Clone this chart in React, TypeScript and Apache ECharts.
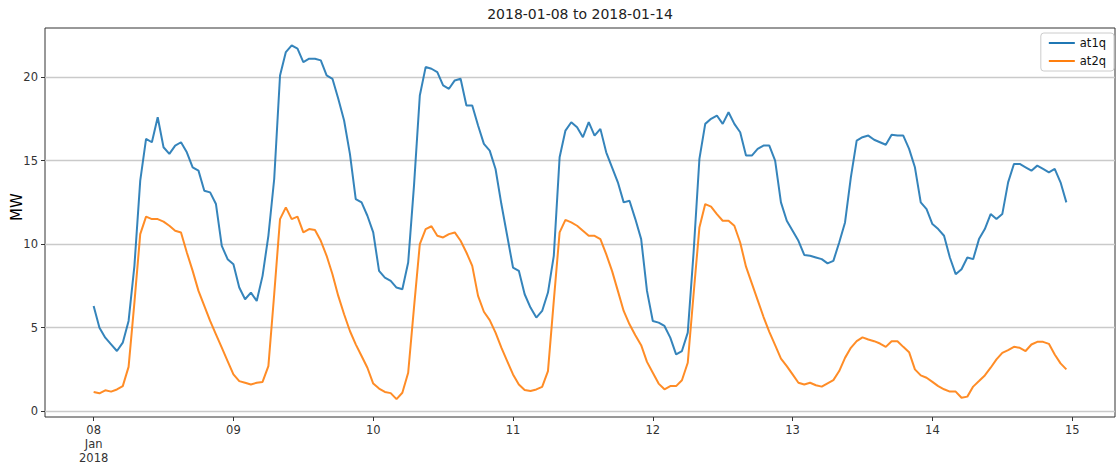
import React, { useEffect, useRef } from "react";
import * as echarts from "echarts";

const TITLE = "2018-01-08 to 2018-01-14";
const Y_AXIS_NAME = "MW";
const SERIES_NAMES = ["at1q", "at2q"];
const SERIES_COLORS = ["#1f77b4", "#ff7f0e"];
// hours since 2018-01-08 00:00 at which day ticks sit
const X_TICK_HOURS = [0, 24, 48, 72, 96, 120, 144, 168];
const X_TICK_LABELS = ["08\nJan\n2018", "09", "10", "11", "12", "13", "14", "15"];
const Y_TICKS = [0, 5, 10, 15, 20];

// hourly values, 2018-01-08 00:00 .. 2018-01-14 23:00
const at1q = [
  // 08
  6.3, 5.0, 4.4, 4.0, 3.6, 4.1, 5.4, 8.7, 13.8, 16.3, 16.1, 17.6, 15.8, 15.4, 15.9, 16.1, 15.5, 14.6, 14.4, 13.2, 13.1, 12.4, 9.9, 9.1,
  // 09
  8.8, 7.4, 6.7, 7.1, 6.6, 8.1, 10.5, 13.9, 20.1, 21.5, 21.9, 21.7, 20.9, 21.1, 21.1, 21.0, 20.1, 19.9, 18.7, 17.4, 15.4, 12.7, 12.5, 11.7,
  // 10
  10.7, 8.4, 8.0, 7.8, 7.4, 7.3, 8.9, 13.5, 18.9, 20.6, 20.5, 20.3, 19.5, 19.3, 19.8, 19.9, 18.3, 18.3, 17.1, 16.0, 15.6, 14.5, 12.4, 10.5,
  // 11
  8.6, 8.4, 7.0, 6.2, 5.6, 6.0, 7.1, 9.3, 15.2, 16.8, 17.3, 17.0, 16.4, 17.3, 16.5, 16.9, 15.5, 14.6, 13.7, 12.5, 12.6, 11.5, 10.3, 7.2,
  // 12
  5.4, 5.3, 5.1, 4.4, 3.4, 3.6, 4.7, 9.5, 15.1, 17.2, 17.5, 17.7, 17.2, 17.9, 17.2, 16.7, 15.3, 15.3, 15.7, 15.9, 15.9, 15.0, 12.5, 11.4,
  // 13
  10.8, 10.2, 9.35, 9.3, 9.2, 9.1, 8.85, 9.0, 10.1, 11.3, 14.0, 16.2, 16.4, 16.5, 16.25, 16.1, 15.95, 16.55, 16.5, 16.5, 15.7, 14.6, 12.5, 12.1,
  // 14
  11.2, 10.9, 10.5, 9.2, 8.2, 8.5, 9.2, 9.1, 10.3, 10.9, 11.8, 11.5, 11.8, 13.7, 14.8, 14.8, 14.6, 14.4, 14.7, 14.5, 14.3, 14.5, 13.7, 12.5,
];

const at2q = [
  // 08
  1.15, 1.07, 1.25, 1.17, 1.3, 1.5, 2.65, 6.5, 10.6, 11.65, 11.5, 11.5, 11.35, 11.1, 10.8, 10.7, 9.5, 8.4, 7.2, 6.3, 5.4, 4.6, 3.8, 3.0,
  // 09
  2.2, 1.8, 1.7, 1.6, 1.7, 1.75, 2.7, 7.0, 11.5, 12.2, 11.5, 11.65, 10.7, 10.9, 10.85, 10.2, 9.3, 8.2, 6.9, 5.8, 4.8, 4.0, 3.3, 2.6,
  // 10
  1.65, 1.35, 1.15, 1.08, 0.72, 1.1, 2.3, 6.2, 10.0, 10.9, 11.07, 10.5, 10.4, 10.6, 10.7, 10.2, 9.5, 8.7, 6.9, 5.95, 5.45, 4.7, 3.8, 3.0,
  // 11
  2.2, 1.6, 1.27, 1.21, 1.3, 1.45, 2.4, 6.6, 10.7, 11.45, 11.3, 11.1, 10.8, 10.5, 10.5, 10.3, 9.4, 8.4, 7.2, 6.0, 5.2, 4.55, 3.95, 2.95,
  // 12
  2.3, 1.65, 1.31, 1.5, 1.5, 1.85, 2.9, 7.0, 11.0, 12.4, 12.25, 11.8, 11.4, 11.4, 11.1, 10.1, 8.65, 7.65, 6.65, 5.65, 4.75, 3.95, 3.15, 2.7,
  // 13
  2.2, 1.7, 1.6, 1.7, 1.55, 1.47, 1.67, 1.86, 2.4, 3.19, 3.79, 4.19, 4.42, 4.29, 4.19, 4.05, 3.85, 4.19, 4.19, 3.85, 3.53, 2.5, 2.14, 2.0,
  // 14
  1.75, 1.5, 1.31, 1.17, 1.17, 0.8, 0.87, 1.47, 1.8, 2.14, 2.6, 3.1, 3.49, 3.65, 3.85, 3.79, 3.6, 3.99, 4.15, 4.15, 4.03, 3.39, 2.86, 2.5,
];

const FONT = "DejaVu Sans";

export default function App() {
  const ref = useRef<HTMLDivElement>(null);

  useEffect(() => {
    if (!ref.current) return;
    const chart = echarts.init(ref.current, null, { renderer: "svg" });
    const toPairs = (arr: number[]) => arr.map((v, i) => [i, v]);

    chart.setOption({
      animation: false,
      backgroundColor: "#ffffff",
      textStyle: { fontFamily: FONT },
      title: {
        text: TITLE,
        left: 580,
        top: 7,
        padding: 0,
        textAlign: "center",
        textStyle: { fontSize: 14, fontWeight: "normal", color: "#222", fontFamily: FONT },
      },
      legend: {
        orient: "vertical",
        right: 3,
        top: 33,
        icon: "rect",
        itemWidth: 26,
        itemHeight: 2,
        itemGap: 4,
        padding: [3, 8, 3, 8],
        borderColor: "#cccccc",
        borderWidth: 1,
        borderRadius: 3,
        backgroundColor: "rgba(255,255,255,0.8)",
        textStyle: { fontSize: 11.5, color: "#111", fontFamily: FONT, lineHeight: 14 },
        data: SERIES_NAMES,
      },
      graphic: [
        {
          type: "text",
          x: 17,
          y: 207,
          rotation: Math.PI / 2,
          style: {
            text: Y_AXIS_NAME,
            fontSize: 15,
            fill: "#000",
            fontFamily: FONT,
            align: "center",
            verticalAlign: "middle",
          },
        },
      ],
      grid: {
        left: 45,
        right: 2,
        top: 28,
        bottom: 46,
        show: true,
        borderColor: "#333",
        borderWidth: 1,
        backgroundColor: "transparent",
      },
      xAxis: {
        type: "value",
        min: -8.35,
        max: 175.35,
        axisLine: { show: false, onZero: false },
        axisTick: {
          show: true,
          length: 4,
          customValues: X_TICK_HOURS,
          lineStyle: { color: "#333" },
        },
        axisLabel: {
          customValues: X_TICK_HOURS,
          formatter: (v: number) => {
            const i = X_TICK_HOURS.indexOf(Math.round(v));
            return i >= 0 ? X_TICK_LABELS[i] : "";
          },
          color: "#333",
          fontSize: 11.5,
          lineHeight: 14,
          margin: 6,
          fontFamily: FONT,
        },
        splitLine: { show: false },
      },
      yAxis: {
        type: "value",
        min: -0.35,
        max: 22.94,
        axisLine: { show: false, onZero: false },
        axisTick: {
          show: true,
          length: 4,
          customValues: Y_TICKS,
          lineStyle: { color: "#333" },
        },
        axisLabel: {
          customValues: Y_TICKS,
          formatter: (v: number) => String(Math.round(v)),
          color: "#333",
          fontSize: 11.5,
          margin: 7,
          fontFamily: FONT,
        },
        splitLine: { show: false },
      },
      series: [
        {
          name: SERIES_NAMES[0],
          type: "line",
          data: toPairs(at1q),
          symbol: "none",
          showSymbol: false,
          lineStyle: { width: 2, color: SERIES_COLORS[0], opacity: 0.9 },
          itemStyle: { color: SERIES_COLORS[0] },
          z: 3,
          markLine: {
            silent: true,
            z: 1,
            symbol: ["none", "none"],
            label: { show: false },
            emphasis: { disabled: true },
            lineStyle: { color: "#cacaca", width: 1.3, type: "solid" },
            data: Y_TICKS.map((v) => ({ yAxis: v })),
          },
        },
        {
          name: SERIES_NAMES[1],
          type: "line",
          data: toPairs(at2q),
          symbol: "none",
          showSymbol: false,
          lineStyle: { width: 2, color: SERIES_COLORS[1], opacity: 0.9 },
          itemStyle: { color: SERIES_COLORS[1] },
          z: 3,
        },
      ],
    });

    return () => chart.dispose();
  }, []);

  return (
    <div
      ref={ref}
      style={{ position: "fixed", left: 0, top: 0, width: 1117, height: 465, background: "#fff" }}
    />
  );
}
